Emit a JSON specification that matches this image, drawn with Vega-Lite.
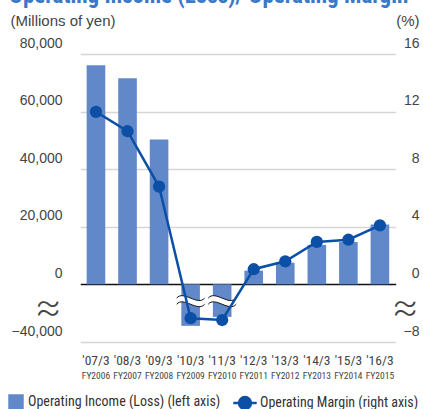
{
  "$schema": "https://vega.github.io/schema/vega-lite/v6.json",
  "width": 413,
  "height": 342,
  "autosize": {"type": "none"},
  "padding": {"left": 9, "right": 1, "top": 0, "bottom": 67},
  "background": "white",
  "config": {"view": {"stroke": null}},
  "title": {
    "text": "Operating Income (Loss)/ Operating Margin",
    "anchor": "start",
    "frame": "group",
    "offset": -8,
    "font": "Roboto Condensed, sans-serif",
    "fontSize": 23,
    "fontWeight": "bold",
    "color": "#3a78c8"
  },
  "data": {
    "values": [
      {"period": "'07/3|FY2006", "income": 76200, "margin": 12.0},
      {"period": "'08/3|FY2007", "income": 71700, "margin": 10.65},
      {"period": "'09/3|FY2008", "income": 50400, "margin": 6.8},
      {"period": "'10/3|FY2009", "income": -28800, "margin": -4.7},
      {"period": "'11/3|FY2010", "income": -22600, "margin": -4.95},
      {"period": "'12/3|FY2011", "income": 4750, "margin": 1.05},
      {"period": "'13/3|FY2012", "income": 7500, "margin": 1.6},
      {"period": "'14/3|FY2013", "income": 13700, "margin": 2.95},
      {"period": "'15/3|FY2014", "income": 14700, "margin": 3.1},
      {"period": "'16/3|FY2015", "income": 20800, "margin": 4.1}
    ]
  },
  "resolve": {"scale": {"y": "independent"}, "axis": {"x": "independent"}},
  "layer": [
    {
      "encoding": {
        "x": {
          "field": "period", "type": "nominal", "sort": null,
          "scale": {"range": [71.2, 386.7], "paddingInner": 0.41, "paddingOuter": 0.205},
          "axis": {
            "orient": "bottom",
            "title": null, "domain": false, "ticks": false, "grid": false,
            "labelAngle": 0,
            "labelExpr": "split(datum.label, '|')[0]",
            "labelFont": "Roboto Condensed, sans-serif",
            "labelFontSize": 13.5, "labelColor": "#444444",
            "labelBaseline": "alphabetic", "labelPadding": 22
          }
        }
      },
      "layer": [
        {
          "mark": {"type": "bar"},
          "encoding": {
            "y": {
              "field": "income", "type": "quantitative",
              "scale": {"domain": [-40000, 0, 80000], "range": [342, 284.3, 54.3], "nice": false, "zero": false},
              "axis": {
                "title": "(Millions of yen)",
                "titleAngle": 0, "titleAlign": "left", "titleBaseline": "middle",
                "titleX": 1, "titleY": 20,
                "titleFont": "Liberation Sans", "titleFontSize": 15, "titleFontWeight": "normal", "titleColor": "#444444",
                "values": [-40000, -14500, 0, 20000, 40000, 60000, 80000],
                "labelExpr": "datum.value === -14500 ? '≈' : format(datum.value, ',')",
                "labelAlign": "right", "labelPadding": -53, "labelFlush": false, "labelOverlap": false,
                "labelBaseline": {"condition": {"test": "datum.value === -14500", "value": "middle"}, "value": "alphabetic"},
                "labelOffset": {"condition": {"test": "datum.value === -14500", "value": 2}, "value": -7},
                "labelFont": {"condition": {"test": "datum.value === -14500", "value": "Inter"}, "value": "Liberation Sans"},
                "labelFontWeight": {"condition": {"test": "datum.value === -14500", "value": 200}, "value": "normal"},
                "labelFontSize": {"condition": {"test": "datum.value === -14500", "value": 44}, "value": 14},
                "labelColor": "#444444",
                "ticks": false, "domain": false, "grid": true,
                "gridColor": {"condition": {"test": "datum.value === 0", "value": "#111111"}, "value": "#d6d6d6"},
                "gridOpacity": {"condition": {"test": "datum.value === -14500", "value": 0}, "value": 1},
                "gridWidth": 1.3
              }
            },
            "y2": {"datum": 0},
            "color": {
              "datum": "Operating Income (Loss) (left axis)", "type": "nominal",
              "scale": {"range": ["#6189c9"]},
              "legend": {
                "title": null, "orient": "none", "legendX": -1, "legendY": 394,
                "symbolType": "square", "symbolSize": 240, "symbolStrokeWidth": 0,
                "labelFont": "Roboto Condensed, sans-serif",
                "labelFontSize": 14, "labelColor": "#333333", "labelOffset": 4, "padding": 0, "labelLimit": 400
              }
            }
          }
        },
        {
          "transform": [{"filter": "datum.income < 0"}],
          "mark": {
            "type": "point",
            "shape": "M-1,-0.22C-0.5,-0.82 0.5,0.38 1,-0.22L1,0.22C0.5,0.82 -0.5,-0.38 -1,0.22Z",
            "size": 784, "filled": true, "fill": "white", "strokeWidth": 0, "opacity": 1
          },
          "encoding": {"y": {"datum": -11700, "type": "quantitative"}}
        },
        {
          "transform": [{"filter": "datum.income < 0"}],
          "mark": {
            "type": "point",
            "shape": "M-1,-0.22C-0.5,-0.82 0.5,0.38 1,-0.22M-1,0.22C-0.5,-0.38 0.5,0.82 1,0.22",
            "size": 784, "filled": false, "stroke": "#111111", "strokeWidth": 1, "opacity": 1
          },
          "encoding": {"y": {"datum": -11700, "type": "quantitative"}}
        }
      ]
    },
    {
      "encoding": {
        "x": {
          "field": "period", "type": "nominal", "sort": null,
          "scale": {"range": [71.2, 386.7], "paddingInner": 0.41, "paddingOuter": 0.205},
          "axis": {
            "orient": "bottom",
            "title": null, "domain": false, "ticks": false, "grid": false,
            "labelAngle": 0,
            "labelExpr": "split(datum.label, '|')[1]",
            "labelFont": "Roboto Condensed, sans-serif",
            "labelFontSize": 9.5, "labelColor": "#444444",
            "labelBaseline": "alphabetic", "labelPadding": 36
          }
        },
        "y": {
          "field": "margin", "type": "quantitative",
          "scale": {"domain": [-8, 0, 16], "range": [342, 284.3, 54.3], "nice": false, "zero": false},
          "axis": {
            "orient": "right",
            "title": "(%)",
            "titleAngle": 0, "titleAlign": "right", "titleBaseline": "middle",
            "titleX": -3, "titleY": 20,
            "titleFont": "Liberation Sans", "titleFontSize": 15, "titleFontWeight": "normal", "titleColor": "#444444",
            "values": [-8, -2.9, 0, 4, 8, 12, 16],
            "labelExpr": "datum.value === -2.9 ? '≈' : format(datum.value, 'd')",
            "labelAlign": "right", "labelPadding": -3, "labelFlush": false, "labelOverlap": false,
            "labelBaseline": {"condition": {"test": "datum.value === -2.9", "value": "middle"}, "value": "alphabetic"},
            "labelOffset": {"condition": {"test": "datum.value === -2.9", "value": 2}, "value": -7},
            "labelFont": {"condition": {"test": "datum.value === -2.9", "value": "Inter"}, "value": "Liberation Sans"},
            "labelFontWeight": {"condition": {"test": "datum.value === -2.9", "value": 200}, "value": "normal"},
            "labelFontSize": {"condition": {"test": "datum.value === -2.9", "value": 44}, "value": 14},
            "labelColor": "#444444",
            "ticks": false, "domain": false, "grid": false
          }
        }
      },
      "layer": [
        {
          "mark": {"type": "line", "strokeWidth": 2.5},
          "encoding": {
            "stroke": {
              "datum": "Operating Margin (right axis)", "type": "nominal",
              "scale": {"range": ["#0b4fa6"]},
              "legend": {
                "title": null, "orient": "none", "legendX": 223, "legendY": 390,
                "symbolType": "M-1,0L1,0M-0.51,0A0.51,0.51,0,1,0,0.51,0A0.51,0.51,0,1,0,-0.51,0Z",
                "symbolSize": 547, "symbolStrokeWidth": 2.5, "symbolFillColor": "#0b4fa6",
                "labelFont": "Roboto Condensed, sans-serif",
                "labelFontSize": 14, "labelColor": "#333333", "labelOffset": 2, "padding": 0, "labelLimit": 400
              }
            }
          }
        },
        {
          "mark": {"type": "point", "filled": true, "size": 150, "color": "#0b4fa6", "opacity": 1}
        }
      ]
    }
  ]
}
